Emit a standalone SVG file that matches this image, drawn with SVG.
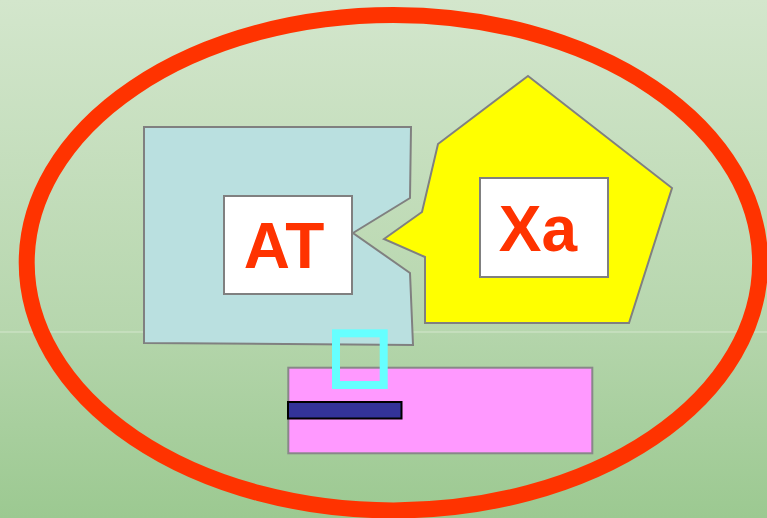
<svg xmlns="http://www.w3.org/2000/svg" width="767" height="518" viewBox="0 0 767 518">
  <defs>
    <linearGradient id="bgTop" x1="0" y1="0" x2="0" y2="1">
      <stop offset="0" stop-color="#d3e6cc"/>
      <stop offset="1" stop-color="#b6d6ad"/>
    </linearGradient>
    <linearGradient id="bgBottom" x1="0" y1="0" x2="0" y2="1">
      <stop offset="0" stop-color="#b4d5ab"/>
      <stop offset="1" stop-color="#9cc991"/>
    </linearGradient>
    <style>
      .shape { stroke: #808080; stroke-width: 2; stroke-linejoin: miter; }
      .label-box { fill: #ffffff; stroke: #808080; stroke-width: 2; }
      .label { font-family: "Liberation Sans", Arial, sans-serif; font-weight: bold; font-size: 64px; fill: #ff3300; text-anchor: middle; }
    </style>
  </defs>

  <!-- background -->
  <rect x="0" y="0" width="767" height="332" fill="url(#bgTop)"/>
  <rect x="0" y="332" width="767" height="186" fill="url(#bgBottom)"/>
  <line x1="0" y1="332" x2="767" y2="332" stroke="#d4e7cd" stroke-width="1"/>

  <!-- outer boundary -->
  <g id="boundary">
    <ellipse cx="393.4" cy="262.7" rx="366.7" ry="247.7" fill="none" stroke="#ff3300" stroke-width="16"/>
  </g>

  <!-- AT node -->
  <g id="node-at">
    <polygon class="shape" fill="#bae0e0" points="144,127 411,127 410,198 353,233 410,273 413,345 144,343"/>
    <rect class="label-box" x="224" y="196" width="128" height="98"/>
    <text class="label" x="284" y="268">AT</text>
  </g>

  <!-- Xa node -->
  <g id="node-xa">
    <polygon class="shape" fill="#ffff00" points="528,76 672,188 629,323 425,323 425,257 384,239 422,212 438,144"/>
    <rect class="label-box" x="480" y="178" width="128" height="99"/>
    <text class="label" x="538" y="251">Xa</text>
  </g>

  <!-- pink bar with marker -->
  <g id="node-bar">
    <rect x="288.3" y="367.7" width="304" height="85.6" fill="#ff99ff" stroke="#888888" stroke-width="2"/>
    <rect x="288" y="402" width="113.5" height="16.5" fill="#333399" stroke="#000000" stroke-width="2"/>
  </g>

  <!-- cyan square -->
  <g id="node-square">
    <rect x="336" y="333.3" width="47.7" height="51.7" fill="none" stroke="#66ffff" stroke-width="8"/>
  </g>

  <g id="connectors"></g>
</svg>
